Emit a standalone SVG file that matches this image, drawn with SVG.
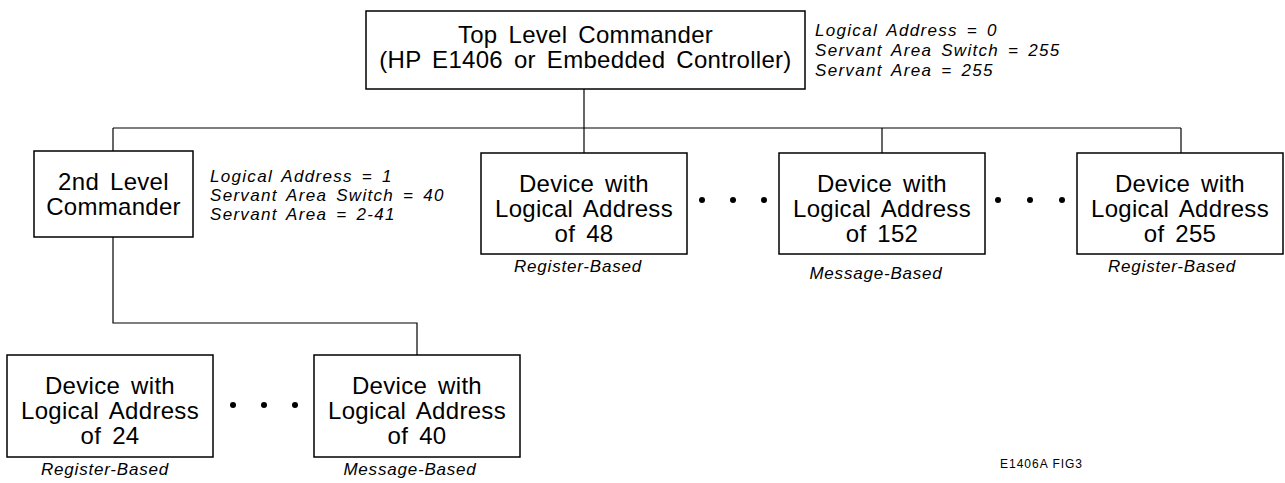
<svg xmlns="http://www.w3.org/2000/svg" width="1285" height="483" viewBox="0 0 1285 483">
<style>
.box{fill:#fff;stroke:#000;stroke-width:1.5}
.conn{fill:none;stroke:#000;stroke-width:1.2}
.t{font-family:"Liberation Sans",Arial,sans-serif;font-size:24px;text-anchor:middle;fill:#000;letter-spacing:0.3px;word-spacing:4px}
.note{font-family:"Liberation Sans",Arial,sans-serif;font-style:italic;font-size:17px;letter-spacing:1.3px;word-spacing:3px;fill:#000}
.type{font-family:"Liberation Sans",Arial,sans-serif;font-style:italic;font-size:17px;letter-spacing:0.8px;text-anchor:middle;fill:#000}
.fig{font-family:"Liberation Sans",Arial,sans-serif;font-size:12px;letter-spacing:1px;fill:#000}
.dot{fill:#000}
</style>
<rect width="1285" height="483" fill="#fff"/>
<g id="connectors">
<path class="conn" d="M584 89V153"/>
<path class="conn" d="M113 128H1181"/>
<path class="conn" d="M113 128V151"/>
<path class="conn" d="M882 128V153"/>
<path class="conn" d="M1181 128V153"/>
<path class="conn" d="M113 237V323H417V355"/>
</g>
<g id="top-commander">
<rect class="box" x="366" y="11" width="439" height="78"/>
<text class="t" x="585.5" y="43">Top Level Commander</text>
<text class="t" x="585.5" y="68">(HP E1406 or Embedded Controller)</text>
<text class="note" x="815" y="36">Logical Address = 0</text>
<text class="note" x="815" y="56">Servant Area Switch = 255</text>
<text class="note" x="815" y="76">Servant Area = 255</text>
</g>
<g id="second-commander">
<rect class="box" x="34" y="151" width="159" height="86"/>
<text class="t" x="113.5" y="190">2nd Level</text>
<text class="t" x="113.5" y="215">Commander</text>
<text class="note" x="210" y="182">Logical Address = 1</text>
<text class="note" x="210" y="201">Servant Area Switch = 40</text>
<text class="note" x="210" y="220">Servant Area = 2-41</text>
</g>
<g id="device-48">
<rect class="box" x="481" y="153" width="206" height="101"/>
<text class="t" x="584" y="192">Device with</text>
<text class="t" x="584" y="217">Logical Address</text>
<text class="t" x="584" y="242">of 48</text>
<text class="type" x="578" y="272">Register-Based</text>
</g>
<g id="dots-1">
<circle class="dot" cx="702" cy="200" r="3"/>
<circle class="dot" cx="733" cy="200" r="3"/>
<circle class="dot" cx="764" cy="200" r="3"/>
</g>
<g id="device-152">
<rect class="box" x="779" y="153" width="206" height="101"/>
<text class="t" x="882" y="192">Device with</text>
<text class="t" x="882" y="217">Logical Address</text>
<text class="t" x="882" y="242">of 152</text>
<text class="type" x="876" y="279">Message-Based</text>
</g>
<g id="dots-2">
<circle class="dot" cx="998" cy="200" r="3"/>
<circle class="dot" cx="1030" cy="200" r="3"/>
<circle class="dot" cx="1062" cy="200" r="3"/>
</g>
<g id="device-255">
<rect class="box" x="1077" y="153" width="206" height="101"/>
<text class="t" x="1180" y="192">Device with</text>
<text class="t" x="1180" y="217">Logical Address</text>
<text class="t" x="1180" y="242">of 255</text>
<text class="type" x="1172" y="272">Register-Based</text>
</g>
<g id="device-24">
<rect class="box" x="7" y="355" width="206" height="102"/>
<text class="t" x="110" y="394">Device with</text>
<text class="t" x="110" y="419">Logical Address</text>
<text class="t" x="110" y="444">of 24</text>
<text class="type" x="105" y="475">Register-Based</text>
</g>
<g id="dots-3">
<circle class="dot" cx="233" cy="405" r="3"/>
<circle class="dot" cx="264" cy="405" r="3"/>
<circle class="dot" cx="295" cy="405" r="3"/>
</g>
<g id="device-40">
<rect class="box" x="314" y="355" width="206" height="102"/>
<text class="t" x="417" y="394">Device with</text>
<text class="t" x="417" y="419">Logical Address</text>
<text class="t" x="417" y="444">of 40</text>
<text class="type" x="410" y="475">Message-Based</text>
</g>
<text class="fig" x="1000" y="468">E1406A FIG3</text>
</svg>
